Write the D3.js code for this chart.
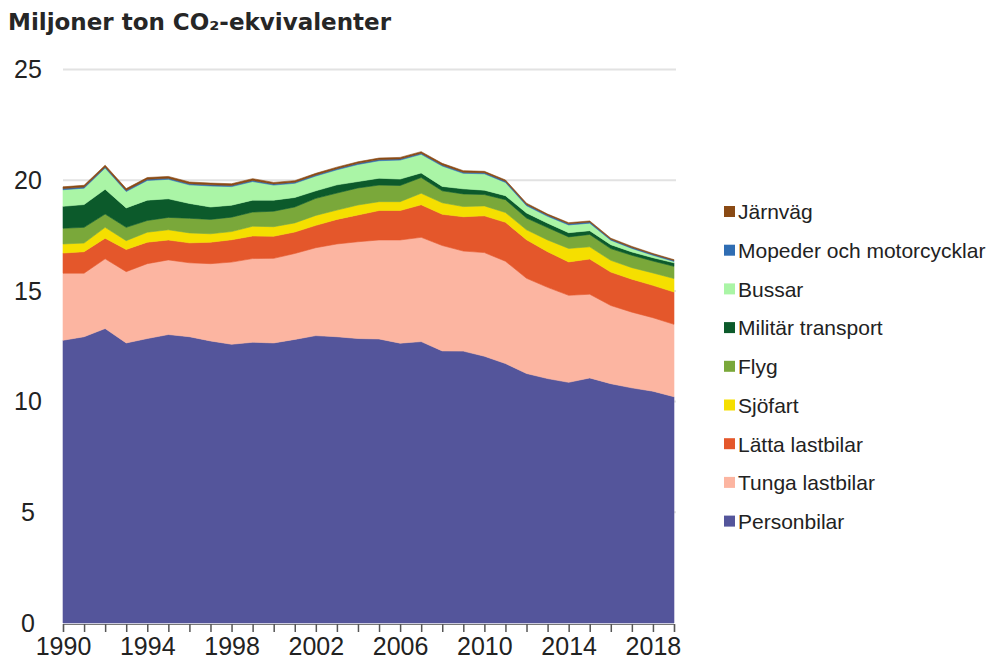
<!DOCTYPE html>
<html lang="sv">
<head>
  <meta charset="UTF-8">
  <title>Växthusgasutsläpp från inrikes transporter</title>
  <script src="https://d3js.org/d3.v7.min.js"></script>
  <style>
    body { margin: 0; background: #fff; }
    svg { display: block; }
  </style>
</head>
<body>
  <div id="viz"></div>

  <script>
    // Data (Mt CO2-eq per year)
    const years = [1990, 1991, 1992, 1993, 1994, 1995, 1996, 1997, 1998, 1999,
                   2000, 2001, 2002, 2003, 2004, 2005, 2006, 2007, 2008, 2009,
                   2010, 2011, 2012, 2013, 2014, 2015, 2016, 2017, 2018, 2019];

    const personbilar = [12.77, 12.93, 13.30, 12.65, 12.85, 13.03, 12.93, 12.74, 12.59, 12.68,
                         12.65, 12.81, 12.98, 12.93, 12.85, 12.83, 12.64, 12.71, 12.29, 12.28,
                         12.05, 11.72, 11.27, 11.04, 10.87, 11.07, 10.81, 10.62, 10.47, 10.22];
    const tungaLastbilar = [3.03, 2.87, 3.15, 3.22, 3.38, 3.37, 3.34, 3.49, 3.71, 3.78,
                            3.82, 3.88, 3.97, 4.19, 4.37, 4.47, 4.66, 4.71, 4.76, 4.52,
                            4.68, 4.62, 4.30, 4.12, 3.93, 3.78, 3.53, 3.42, 3.32, 3.27];
    const lattaLastbilar = [0.91, 0.97, 0.93, 1.00, 0.97, 0.90, 0.90, 0.97, 1.01, 1.02,
                            1.00, 0.97, 1.01, 1.11, 1.21, 1.33, 1.33, 1.47, 1.41, 1.55,
                            1.66, 1.76, 1.74, 1.61, 1.51, 1.59, 1.51, 1.49, 1.46, 1.46];
    const sjofart = [0.41, 0.39, 0.49, 0.40, 0.45, 0.46, 0.45, 0.38, 0.37, 0.44,
                     0.43, 0.41, 0.45, 0.42, 0.45, 0.40, 0.40, 0.52, 0.52, 0.46,
                     0.45, 0.44, 0.45, 0.53, 0.61, 0.55, 0.53, 0.52, 0.56, 0.61];
    const flyg = [0.71, 0.71, 0.60, 0.60, 0.53, 0.56, 0.66, 0.65, 0.65, 0.64,
                  0.70, 0.72, 0.77, 0.77, 0.77, 0.75, 0.73, 0.71, 0.54, 0.57,
                  0.51, 0.58, 0.53, 0.56, 0.52, 0.56, 0.53, 0.56, 0.54, 0.55];
    const militar = [0.99, 1.03, 1.12, 0.88, 0.92, 0.84, 0.67, 0.56, 0.54, 0.54,
                     0.50, 0.43, 0.34, 0.37, 0.29, 0.31, 0.29, 0.21, 0.20, 0.23,
                     0.20, 0.18, 0.23, 0.20, 0.19, 0.17, 0.18, 0.15, 0.15, 0.16];
    const bussar = [0.75, 0.74, 0.96, 0.74, 0.89, 0.88, 0.84, 0.95, 0.84, 0.84,
                    0.68, 0.64, 0.67, 0.68, 0.77, 0.79, 0.86, 0.84, 0.92, 0.70,
                    0.74, 0.60, 0.33, 0.31, 0.35, 0.34, 0.20, 0.16, 0.11, 0.06];
    const mopeder = [0.05, 0.05, 0.05, 0.05, 0.05, 0.05, 0.05, 0.05, 0.05, 0.05,
                     0.05, 0.05, 0.05, 0.05, 0.05, 0.05, 0.05, 0.05, 0.05, 0.05,
                     0.05, 0.05, 0.05, 0.05, 0.05, 0.05, 0.04, 0.04, 0.04, 0.04];
    const jarnvag = [0.08, 0.08, 0.08, 0.08, 0.08, 0.08, 0.08, 0.08, 0.08, 0.08,
                     0.07, 0.07, 0.07, 0.07, 0.07, 0.07, 0.07, 0.07, 0.07, 0.07,
                     0.06, 0.06, 0.06, 0.05, 0.05, 0.05, 0.05, 0.05, 0.04, 0.04];

    // bottom to top
    const seriesNames = ['Personbilar', 'Tunga lastbilar', 'Lätta lastbilar', 'Sjöfart', 'Flyg',
                         'Militär transport', 'Bussar', 'Mopeder och motorcycklar', 'Järnväg'];
    const seriesValues = [personbilar, tungaLastbilar, lattaLastbilar, sjofart, flyg,
                          militar, bussar, mopeder, jarnvag];
    const seriesColors = ['#54559b', '#fcb5a1', '#e4572b', '#f5df00', '#7aa83a',
                          '#0c5a2b', '#aaf5a6', '#2f6db3', '#8a4a14'];

    const yTicks = [0, 5, 10, 15, 20, 25];
    const xTickLabels = [1990, 1994, 1998, 2002, 2006, 2010, 2014, 2018];

    const W = 988, H = 660;

    const svg = d3.select('#viz')
      .append('svg')
        .attr('width', W)
        .attr('height', H)
        .style('font-family', '"Liberation Sans", Arial, sans-serif');

    const x = d3.scaleLinear().domain([1990, 2019]).range([63, 674]);
    const y = d3.scaleLinear().domain([0, 25]).range([623, 69.5]);

    // title
    svg.append('text')
      .attr('x', 8)
      .attr('y', 30)
      .style('font-family', '"DejaVu Sans", sans-serif')
      .style('font-weight', 700)
      .style('font-size', '23px')
      .attr('fill', '#262626')
      .text('Miljoner ton CO₂-ekvivalenter');

    // gridlines
    svg.append('g')
      .selectAll('line')
      .data(yTicks.filter(d => d > 0))
      .join('line')
        .attr('x1', 63)
        .attr('x2', 676)
        .attr('y1', d => y(d))
        .attr('y2', d => y(d))
        .attr('stroke', '#e2e2e2')
        .attr('stroke-width', 2);

    // y labels
    svg.append('g')
      .selectAll('text')
      .data(yTicks)
      .join('text')
        .attr('x', 28)
        .attr('y', d => y(d))
        .attr('dy', '0.35em')
        .attr('text-anchor', 'middle')
        .style('font-size', '25px')
        .attr('fill', '#222')
        .text(d => d);

    // stacked areas
    const rows = years.map((yr, i) => {
      const r = { year: yr };
      seriesNames.forEach((name, k) => { r[name] = seriesValues[k][i]; });
      return r;
    });

    const stacked = d3.stack().keys(seriesNames)(rows);

    const area = d3.area()
      .x(d => x(d.data.year))
      .y0(d => y(d[0]))
      .y1(d => y(d[1]));

    svg.append('g')
      .selectAll('path')
      .data(stacked)
      .join('path')
        .attr('d', area)
        .attr('fill', (d, i) => seriesColors[i])
        .attr('stroke', (d, i) => seriesColors[i])
        .attr('stroke-width', 0.6);

    // x axis
    const xAxis = d3.axisBottom(x)
      .tickValues(years)
      .tickSize(8)
      .tickPadding(5)
      .tickFormat(d => xTickLabels.includes(d) ? d : '');

    const gx = svg.append('g')
      .attr('transform', `translate(0, ${y(0) + 1})`)
      .call(xAxis);

    gx.select('.domain').attr('stroke', '#777').attr('stroke-width', 1.2);
    gx.selectAll('.tick line').attr('stroke', '#555').attr('stroke-width', 1.5);
    gx.selectAll('.tick text')
      .style('font-size', '25px')
      .style('font-family', '"Liberation Sans", Arial, sans-serif')
      .attr('fill', '#222');

    // legend, top item is the top series
    const legendItems = seriesNames.map((n, i) => ({ name: n, color: seriesColors[i] })).reverse();

    const legend = svg.append('g')
      .attr('transform', 'translate(724, 212)');

    const item = legend.selectAll('g')
      .data(legendItems)
      .join('g')
        .attr('transform', (d, i) => `translate(0, ${i * 38.7})`);

    item.append('rect')
      .attr('x', 0)
      .attr('y', -6)
      .attr('width', 11)
      .attr('height', 11)
      .attr('fill', d => d.color);

    item.append('text')
      .attr('x', 14)
      .attr('y', 0)
      .attr('dy', '0.35em')
      .style('font-size', '21px')
      .attr('fill', '#222')
      .text(d => d.name);
  </script>
</body>
</html>
